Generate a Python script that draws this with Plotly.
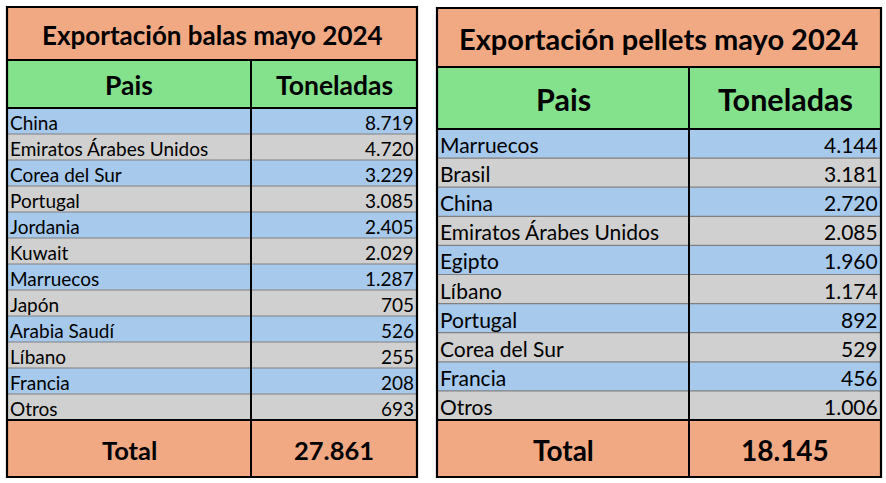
import plotly.graph_objects as go

W, H = 886, 483

# ---------------- data ----------------
col_headers = ["Pais", "Toneladas"]
total_label = "Total"

balas_titulo = "Exportación balas mayo 2024"
balas_paises = ["China", "Emiratos Árabes Unidos", "Corea del Sur", "Portugal", "Jordania",
                "Kuwait", "Marruecos", "Japón", "Arabia Saudí", "Líbano", "Francia", "Otros"]
balas_toneladas = [8719, 4720, 3229, 3085, 2405, 2029, 1287, 705, 526, 255, 208, 693]
balas_total = 27861

pellets_titulo = "Exportación pellets mayo 2024"
pellets_paises = ["Marruecos", "Brasil", "China", "Emiratos Árabes Unidos", "Egipto",
                  "Líbano", "Portugal", "Corea del Sur", "Francia", "Otros"]
pellets_toneladas = [4144, 3181, 2720, 2085, 1960, 1174, 892, 529, 456, 1006]
pellets_total = 18145

# ---------------- style ----------------
C_SALMON = "#F1A983"
C_GREEN = "#84E28D"
C_BLUE = "#A6C9EC"
C_GRAY = "#D0D0D0"
C_ROWLINE = "#808080"
FONT = "Lato"


def fmt(v):
    return f"{v:,}".replace(",", ".")


shapes = []
annotations = []


def rect(x0, y0, x1, y1, color):
    shapes.append(dict(type="rect", xref="x", yref="y", x0=x0, y0=y0, x1=x1, y1=y1,
                       fillcolor=color, line=dict(width=0), layer="below"))


def line(x0, y0, x1, y1, color, width):
    shapes.append(dict(type="line", xref="x", yref="y", x0=x0, y0=y0, x1=x1, y1=y1,
                       line=dict(color=color, width=width), layer="above"))


def text(x, y, s, size, bold=False, anchor="left", family=FONT):
    annotations.append(dict(x=x, y=y, xref="x", yref="y", text=(f"<b>{s}</b>" if bold else s),
                            showarrow=False, xanchor=anchor, yanchor="middle",
                            font=dict(family=family, size=size, color="black")))


def draw_table(g, titulo, paises, toneladas, total):
    x0, xd, x1 = g["x0"], g["xd"], g["x1"]
    yt, yh, yd, ye, yb = g["y0"], g["y_title"], g["y_head"], g["y_data"], g["y1"]
    n = len(paises)
    rh = (ye - yd) / n
    # fills
    rect(x0, yt, x1, yh, C_SALMON)
    rect(x0, yh, x1, yd, C_GREEN)
    for i in range(n):
        rect(x0, yd + i * rh, x1, yd + (i + 1) * rh, C_BLUE if i % 2 == 0 else C_GRAY)
    rect(x0, ye, x1, yb, C_SALMON)
    # row lines
    for i in range(1, n):
        line(x0, yd + i * rh, x1, yd + i * rh, C_ROWLINE, 1.2)
    # black lines
    line(xd, yh, xd, yb, "black", 2)
    for yy in (yh, yd, ye):
        line(x0, yy, x1, yy, "black", 2)
    shapes.append(dict(type="rect", xref="x", yref="y", x0=x0, y0=yt, x1=x1, y1=yb,
                       line=dict(color="black", width=2.2), layer="above"))
    # texts
    text((x0 + x1) / 2, (yt + yh) / 2 + 1, titulo, g["fs_title"], bold=True, anchor="center")
    text((x0 + xd) / 2, (yh + yd) / 2 + 1, col_headers[0], g["fs_head"], bold=True, anchor="center")
    text((xd + x1) / 2, (yh + yd) / 2 + 1, col_headers[1], g["fs_head"], bold=True, anchor="center")
    for i, (p, v) in enumerate(zip(paises, toneladas)):
        yc = yd + (i + 0.5) * rh + 1
        text(x0 + 1, yc, p, g["fs_data"], anchor="left")
        text(x1 - 1, yc, fmt(v), g["fs_data"], anchor="right")
    text((x0 + xd) / 2, (ye + yb) / 2 + 1, total_label, g["fs_total"], bold=True, anchor="center")
    text((xd + x1) / 2, (ye + yb) / 2 + 1, fmt(total), g["fs_total"], bold=True, anchor="center")


geo_balas = dict(x0=7, xd=251, x1=417, y0=7, y_title=60, y_head=108, y_data=420, y1=477,
                 fs_title=26, fs_head=26.5, fs_data=19, fs_total=25.5)
geo_pellets = dict(x0=437, xd=689, x1=881, y0=8, y_title=67, y_head=129, y_data=420, y1=477,
                   fs_title=29, fs_head=30.5, fs_data=21, fs_total=28)

draw_table(geo_balas, balas_titulo, balas_paises, balas_toneladas, balas_total)
draw_table(geo_pellets, pellets_titulo, pellets_paises, pellets_toneladas, pellets_total)

fig = go.Figure(go.Scatter(x=[0, W], y=[0, H], mode="markers", marker=dict(opacity=0),
                           hoverinfo="skip", showlegend=False))
fig.update_layout(
    width=W, height=H, autosize=False,
    margin=dict(l=0, r=0, t=0, b=0),
    paper_bgcolor="white", plot_bgcolor="white",
    xaxis=dict(range=[0, W], visible=False, fixedrange=True),
    yaxis=dict(range=[H, 0], visible=False, fixedrange=True),
    shapes=shapes, annotations=annotations, showlegend=False,
)
fig.write_html("out.html", config={"displayModeBar": False},
               post_script="document.body.style.margin='0';document.body.style.overflow='hidden';")
